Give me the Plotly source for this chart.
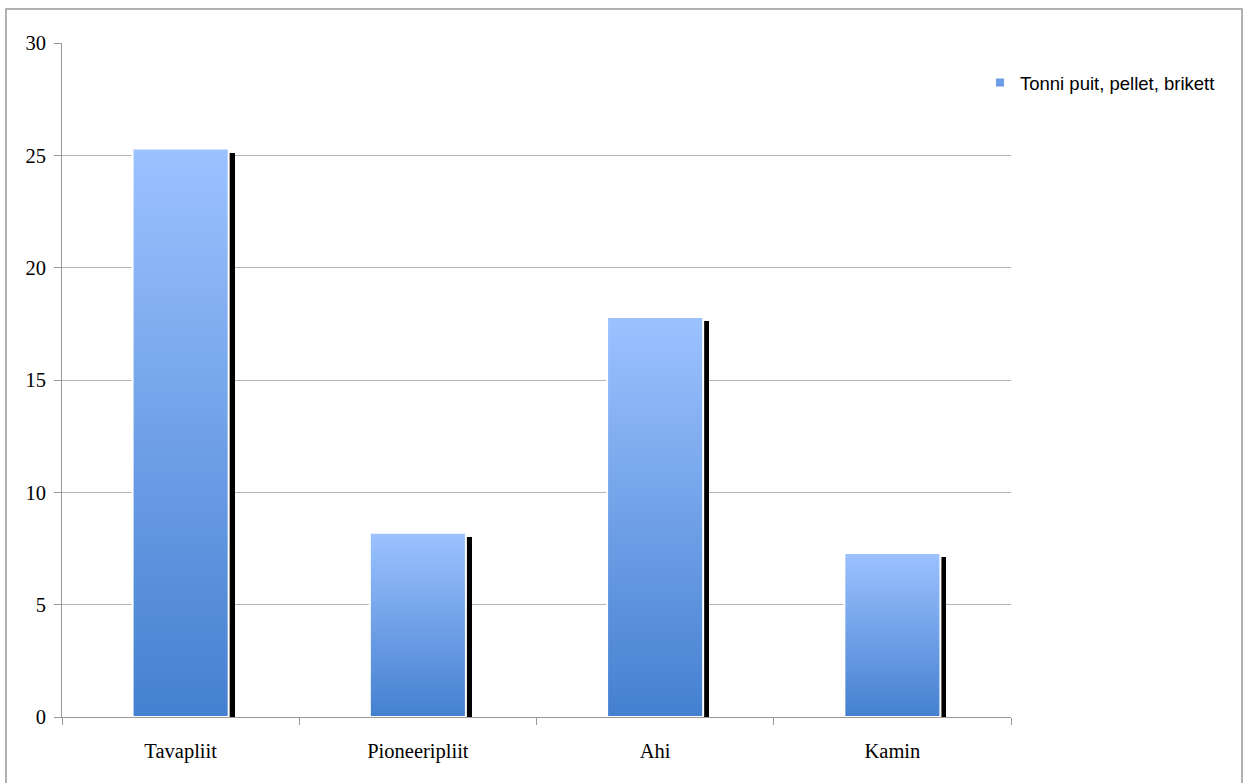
import plotly.graph_objects as go

# Data
categories = ["Tavapliit", "Pioneeripliit", "Ahi", "Kamin"]
values = [25.3, 8.2, 17.8, 7.3]
series_name = "Tonni puit, pellet, brikett"
y_ticks = [0, 5, 10, 15, 20, 25, 30]

# Layout geometry (pixels)
W, H = 1244, 783
M_L, M_R, M_T, M_B = 62, 233, 43, 66
PLOT_W = W - M_L - M_R
PLOT_H = H - M_T - M_B
X_RANGE = [-0.5, len(categories) - 0.5]
Y_RANGE = [0, 30]
BAR_W = 0.405
SHADOW_DX, SHADOW_DY = 6, 4  # drop-shadow offset in pixels

TOP_BLUE = "#9CC2FF"
BOTTOM_BLUE = "#4480D0"
GRID = "#b3b3b3"
AXIS = "#999999"

fig = go.Figure()

# Drop shadows: same bars on an overlaid axis pair shifted by a few pixels
dx_units = SHADOW_DX * (X_RANGE[1] - X_RANGE[0]) / PLOT_W
dy_units = SHADOW_DY * (Y_RANGE[1] - Y_RANGE[0]) / PLOT_H
fig.add_trace(go.Bar(
    x=list(range(len(categories))), y=values, width=BAR_W,
    marker=dict(color="black", line=dict(width=0)),
    xaxis="x2", yaxis="y2", showlegend=False, hoverinfo="skip",
))

# Gradient-filled bars, on a third (unshifted) overlay so they sit above the shadows
for i, (cat, v) in enumerate(zip(categories, values)):
    x0, x1 = i - BAR_W / 2, i + BAR_W / 2
    fig.add_trace(go.Scatter(
        x=[x0, x1, x1, x0, x0], y=[0, 0, v, v, 0],
        mode="lines", fill="toself",
        line=dict(color="white", width=2),
        fillgradient=dict(type="vertical",
                          colorscale=[[0, BOTTOM_BLUE], [1, TOP_BLUE]]),
        xaxis="x3", yaxis="y3",
        name=cat, showlegend=False, hoverinfo="text",
        text=f"{cat}: {v}",
    ))

# Legend entry
fig.add_trace(go.Scatter(
    x=[None], y=[None], mode="markers", name=series_name,
    marker=dict(symbol="square", size=8, color="#6A9CE8"),
))

# Outer frame
fx0 = (6 - M_L) / PLOT_W
fx1 = (1242 - M_L) / PLOT_W
fy1 = (H - M_B - 9) / PLOT_H
fy0 = (H - M_B - 800) / PLOT_H
fig.add_shape(type="rect", xref="paper", yref="paper",
              x0=fx0, x1=fx1, y0=fy0, y1=fy1,
              line=dict(color="#999999", width=1.5), layer="above")

serif = dict(family="Liberation Serif", size=20.5, color="black")

fig.update_layout(
    width=W, height=H,
    margin=dict(l=M_L, r=M_R, t=M_T, b=M_B),
    paper_bgcolor="white", plot_bgcolor="white",
    showlegend=True,
    legend=dict(x=(980 - M_L) / PLOT_W, y=(H - M_B - 64) / PLOT_H,
                xanchor="left", yanchor="top",
                font=dict(family="Liberation Sans", size=18.5, color="black"),
                bgcolor="rgba(0,0,0,0)", itemwidth=30),
    xaxis=dict(
        range=X_RANGE, tickmode="array",
        tickvals=list(range(len(categories))), ticktext=categories,
        ticks="", showgrid=False, zeroline=False,
        showline=True, linecolor=AXIS, linewidth=1,
        tickfont=serif, ticklabelstandoff=15,
        minor=dict(tickmode="array",
                   tickvals=[k - 0.5 for k in range(len(categories) + 1)],
                   ticks="outside", ticklen=7, tickcolor=AXIS, tickwidth=1,
                   showgrid=False),
    ),
    yaxis=dict(
        range=Y_RANGE, tickmode="array", tickvals=y_ticks,
        ticks="outside", ticklen=7, tickcolor=AXIS, tickwidth=1,
        showgrid=True, gridcolor=GRID, gridwidth=1,
        zeroline=False, showline=True, linecolor=AXIS, linewidth=1,
        tickfont=serif, ticklabelstandoff=4,
    ),
    xaxis2=dict(range=[X_RANGE[0] - dx_units, X_RANGE[1] - dx_units],
                overlaying="x", visible=False),
    yaxis2=dict(range=[Y_RANGE[0] + dy_units, Y_RANGE[1] + dy_units],
                overlaying="y", visible=False),
    xaxis3=dict(range=X_RANGE, overlaying="x", visible=False),
    yaxis3=dict(range=Y_RANGE, overlaying="y", visible=False),
    bargap=0,
)

fig.write_html("out.html")
